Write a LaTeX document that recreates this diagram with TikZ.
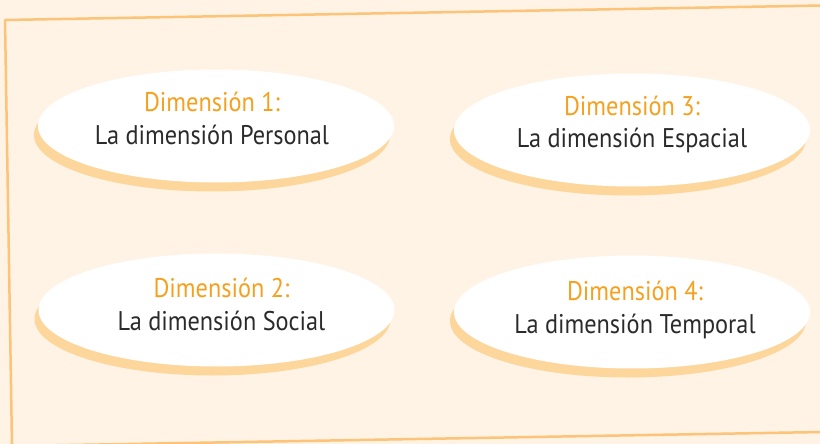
\documentclass[tikz,border=0pt]{standalone}
\usepackage{fontspec}
\setmainfont{PT Sans}
\newfontfamily\dimfont[FakeStretch=0.9]{PT Sans}
\usetikzlibrary{shapes.geometric,shadows}
\definecolor{bgc}{HTML}{FEF3E4}
\definecolor{framec}{HTML}{FDC378}
\definecolor{shadc}{HTML}{FDD69C}
\definecolor{titlec}{HTML}{F6A01E}
\definecolor{textc}{HTML}{2B2B2B}
\tikzset{
  dimoval/.style={ellipse, fill=white, minimum width=356pt, minimum height=113pt, inner sep=0pt,
    general shadow={fill=shadc, shadow xshift=-4pt, shadow yshift=-9pt}},
  dimtitle/.style={anchor=base, text=titlec, font=\dimfont\fontsize{27}{27}\selectfont, inner sep=0pt},
  dimname/.style={anchor=base, text=textc, font=\dimfont\fontsize{27}{27}\selectfont, inner sep=0pt},
  framel/.style={draw=framec, line width=2.5pt, line cap=round, line join=round}
}
\begin{document}
\begin{tikzpicture}[x=1pt,y=-1pt]
\useasboundingbox (0,0) rectangle (820,444);
\fill[bgc] (0,0) rectangle (820,444);
\clip (0,0) rectangle (820,444);
\coordinate (tr) at (822,5.5);
\coordinate (tl) at (5,20);
\coordinate (bl) at (12,446);
\coordinate (br) at (822,432);
\draw[framel] (tr) -- (tl) -- (bl);
\draw[framel] (bl) -- (br);
% ellipses
\node[dimoval] (e1) at (216,126) {};
\node[dimoval] (e3) at (632,130) {};
\node[dimoval] (e2) at (216.5,310) {};
\node[dimoval] (e4) at (632,312) {};
% texts
\node[dimtitle] (t1) at (212,112) {Dimensión 1:};
\node[dimname]  (n1) at (212,144) {La dimensión Personal};
\node[dimtitle] (t3) at (632,115) {Dimensión 3:};
\node[dimname]  (n3) at (632,147) {La dimensión Espacial};
\node[dimtitle] (t2) at (221.5,297) {Dimensión 2:};
\node[dimname]  (n2) at (221.5,330) {La dimensión Social};
\node[dimtitle] (t4) at (635,300) {Dimensión 4:};
\node[dimname]  (n4) at (635,333) {La dimensión Temporal};
\end{tikzpicture}
\end{document}
